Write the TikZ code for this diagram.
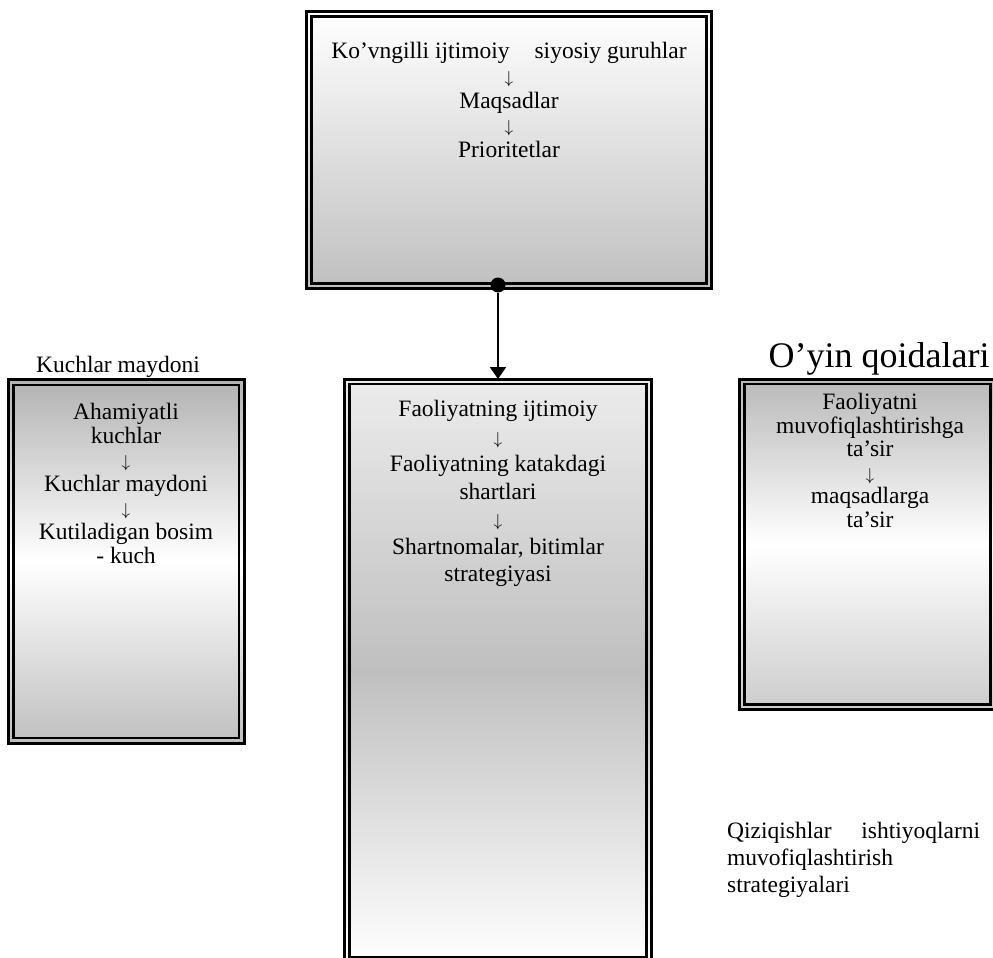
\documentclass[tikz,border=0pt]{standalone}
\usepackage{fontspec}
\setmainfont{Liberation Serif}
\usetikzlibrary{arrows.meta}
% tall thin arrow between the lines of a box
\newcommand{\dnarrow}{{\fontsize{18}{18}\selectfont$\downarrow$}}
\begin{document}
\begin{tikzpicture}[x=1pt,y=-1pt,
  frame/.style={draw=black, line width=3pt, inner sep=0pt, outer sep=0pt},
  innerline/.style={draw=black, line width=2.5pt},
  boxtext/.style={align=center, anchor=north, inner sep=0pt},
  plain/.style={inner sep=0pt, font=\fontsize{23.5}{25}\selectfont},
  link/.style={line width=2pt, -{Triangle[length=12pt,width=16pt]}}
]
\clip (0,0) rectangle (993,958);
\fill[white] (0,0) rectangle (993,958);

% double-framed boxes: shaded outer frame, inner rule inset by 5pt
\node[frame, minimum width=405pt, minimum height=277pt,
      top color=white, bottom color=gray!50] (tbox) at (509,150) {};
\node[frame, minimum width=235.5pt, minimum height=363.3pt,
      top color=gray!60, bottom color=gray!50, middle color=white] (lbox) at (126.25,561.4) {};
\node[frame, minimum width=307pt, minimum height=583pt,
      top color=gray!15, bottom color=white, middle color=gray!50] (cbox) at (498,670.5) {};
\node[frame, minimum width=255.8pt, minimum height=330.5pt,
      top color=gray!55, bottom color=gray!40, middle color=white] (rbox) at (867.6,544.3) {};

\foreach \b in {tbox,lbox,cbox,rbox}
  \draw[innerline] ([shift={(5pt,-5pt)}]\b.north west) rectangle ([shift={(-5pt,5pt)}]\b.south east);

% box contents
\node[boxtext, font=\fontsize{23.5}{24.75}\selectfont] (ttext) at (509,42)
  {Ko’vngilli ijtimoiy\hspace{25pt}siyosiy guruhlar\\\dnarrow\\Maqsadlar\\\dnarrow\\Prioritetlar};
\node[boxtext, font=\fontsize{23.5}{24}\selectfont] (ltext) at (126,403)
  {Ahamiyatli\\kuchlar\\\dnarrow\\Kuchlar maydoni\\\dnarrow\\Kutiladigan bosim\\- kuch};
\node[boxtext, font=\fontsize{23.5}{27.5}\selectfont] (ctext) at (498,400)
  {Faoliyatning ijtimoiy\\\dnarrow\\Faoliyatning katakdagi\\shartlari\\\dnarrow\\Shartnomalar, bitimlar\\strategiyasi};
\node[boxtext, font=\fontsize{23.5}{23.6}\selectfont] (rtext) at (870,393)
  {Faoliyatni\\muvofiqlashtirishga\\ta’sir\\\dnarrow\\maqsadlarga\\ta’sir};

% free labels
\node[plain, anchor=base] (lab1) at (118,372) {Kuchlar maydoni};
\node[inner sep=0pt, anchor=base, font=\fontsize{36}{40}\selectfont] (lab2) at (879,367) {O’yin qoidalari};
\node[inner sep=0pt, anchor=north west, align=left, font=\fontsize{23.5}{27}\selectfont] (lab3) at (727,822)
  {\makebox[253pt][s]{Qiziqishlar\hfill ishtiyoqlarni}\\muvofiqlashtirish\\strategiyalari};

% connector from the top box to the centre box
\node[circle, fill=black, inner sep=0pt, minimum size=15pt] (dot) at (498,285) {};
\draw[link] (dot) -- (cbox.north);
\end{tikzpicture}
\end{document}
